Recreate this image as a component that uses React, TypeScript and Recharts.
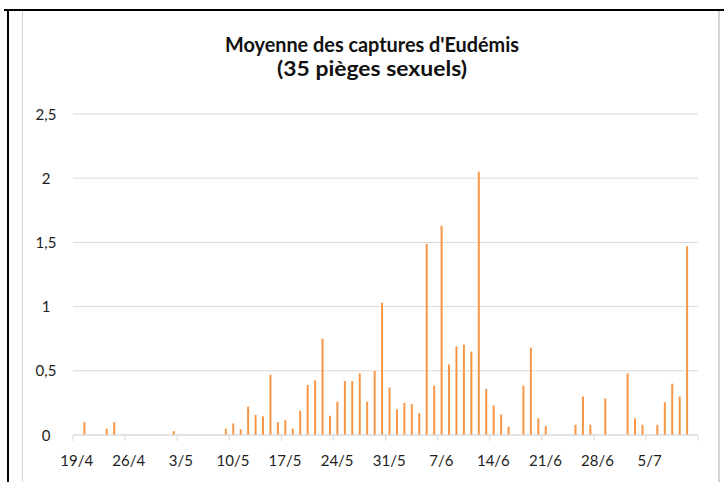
import { Bar, BarChart, CartesianGrid, XAxis, YAxis } from 'recharts'

const days = [
  '19/4', '20/4', '21/4', '22/4', '23/4', '24/4', '25/4', '26/4', '27/4', '28/4', '29/4', '30/4',
  '1/5', '2/5', '3/5', '4/5', '5/5', '6/5', '7/5', '8/5', '9/5', '10/5', '11/5', '12/5', '13/5',
  '14/5', '15/5', '16/5', '17/5', '18/5', '19/5', '20/5', '21/5', '22/5', '23/5', '24/5', '25/5',
  '26/5', '27/5', '28/5', '29/5', '30/5', '31/5', '1/6', '2/6', '3/6', '4/6', '5/6', '6/6', '7/6',
  '8/6', '9/6', '10/6', '11/6', '12/6', '13/6', '14/6', '15/6', '16/6', '17/6', '18/6', '19/6',
  '20/6', '21/6', '22/6', '23/6', '24/6', '25/6', '26/6', '27/6', '28/6', '29/6', '30/6', '1/7',
  '2/7', '3/7', '4/7', '5/7', '6/7', '7/7', '8/7', '9/7', '10/7', '11/7',
]

// moyenne par piège, 0 = pas de capture
const captures = [
  0, 0.1, 0, 0, 0.05, 0.1, 0, 0, 0, 0, 0, 0,
  0, 0.03, 0, 0, 0, 0, 0, 0, 0.05, 0.09, 0.045, 0.22, 0.155,
  0.145, 0.47, 0.1, 0.115, 0.05, 0.19, 0.39, 0.425, 0.75, 0.15, 0.26, 0.42,
  0.42, 0.48, 0.26, 0.5, 1.03, 0.37, 0.2, 0.25, 0.24, 0.17, 1.49, 0.385, 1.63,
  0.55, 0.69, 0.705, 0.65, 2.05, 0.36, 0.23, 0.16, 0.065, 0, 0.385, 0.68,
  0.13, 0.07, 0, 0, 0, 0.08, 0.3, 0.08, 0, 0.285, 0, 0,
  0.48, 0.13, 0.08, 0, 0.08, 0.255, 0.4, 0.3, 1.47, 0,
]

const yTicks = [0, 0.5, 1, 1.5, 2, 2.5]

const data = days.map((day, i) => ({ day, value: captures[i] }))

const LEFT = 73
const RIGHT = 698
const BOTTOM = 435
const band = (RIGHT - LEFT) / days.length
const textColor = '#1e1e1e'
const gridColor = '#d9d9d9'

function DayTick({ x, index, payload }: any) {
  const last = index === days.length - 1
  if (index % 7 !== 0 && !last) return null
  const edge = last ? x + band / 2 : x - band / 2
  return (
    <g>
      <line x1={edge} x2={edge} y1={BOTTOM} y2={BOTTOM + 6} stroke={gridColor} />
      {!last && (
        <text
          x={x}
          y={466}
          textAnchor="middle"
          fill={textColor}
          fontSize={15}
          fontFamily="Lato, sans-serif"
        >
          {payload.value}
        </text>
      )}
    </g>
  )
}

function ValueTick({ y, payload }: any) {
  const label = String(payload.value).replace('.', ',')
  return (
    <text
      x={46}
      y={y + 5.5}
      textAnchor="middle"
      fill={textColor}
      fontSize={15}
      fontFamily="Lato, sans-serif"
    >
      {label}
    </text>
  )
}

export default function App() {
  return (
    <div
      style={{
        position: 'fixed',
        left: 0,
        top: 0,
        width: 724,
        height: 482,
        background: '#fff',
        overflow: 'hidden',
      }}
    >
      <div style={{ position: 'absolute', left: 4, top: 9, width: 720, height: 2, background: '#000' }} />
      <div style={{ position: 'absolute', left: 7, top: 9, width: 2, height: 473, background: '#000' }} />
      <div style={{ position: 'absolute', left: 22, top: 11, width: 1, height: 471, background: '#d4d4d4' }} />
      <div style={{ position: 'absolute', left: 718, top: 11, width: 2, height: 471, background: '#d4d4d4' }} />

      <svg width={724} height={100} style={{ position: 'absolute', left: 0, top: 0 }}>
        <text
          x={225}
          y={52}
          fontSize={21}
          fontWeight="bold"
          fontFamily="Lato, sans-serif"
          fill="#111"
          textLength={294}
          lengthAdjust="spacingAndGlyphs"
        >
          Moyenne des captures d'Eudémis
        </text>
        <text
          x={277}
          y={76}
          fontSize={21}
          fontWeight="bold"
          fontFamily="Lato, sans-serif"
          fill="#111"
          textLength={190}
          lengthAdjust="spacingAndGlyphs"
        >
          (35 pièges sexuels)
        </text>
      </svg>

      <div style={{ position: 'absolute', left: 0, top: 0 }}>
        <BarChart
          width={724}
          height={482}
          data={data}
          margin={{ top: 114, right: 724 - RIGHT, left: LEFT - 60, bottom: 17 }}
        >
          <CartesianGrid vertical={false} stroke={gridColor} />
          <XAxis
            dataKey="day"
            interval={0}
            height={30}
            tickLine={false}
            axisLine={{ stroke: gridColor }}
            tick={<DayTick />}
          />
          <YAxis
            width={60}
            domain={[0, 2.5]}
            ticks={yTicks}
            axisLine={false}
            tickLine={false}
            tick={<ValueTick />}
          />
          <Bar dataKey="value" fill="#F79646" barSize={2} isAnimationActive={false} />
        </BarChart>
      </div>
    </div>
  )
}
